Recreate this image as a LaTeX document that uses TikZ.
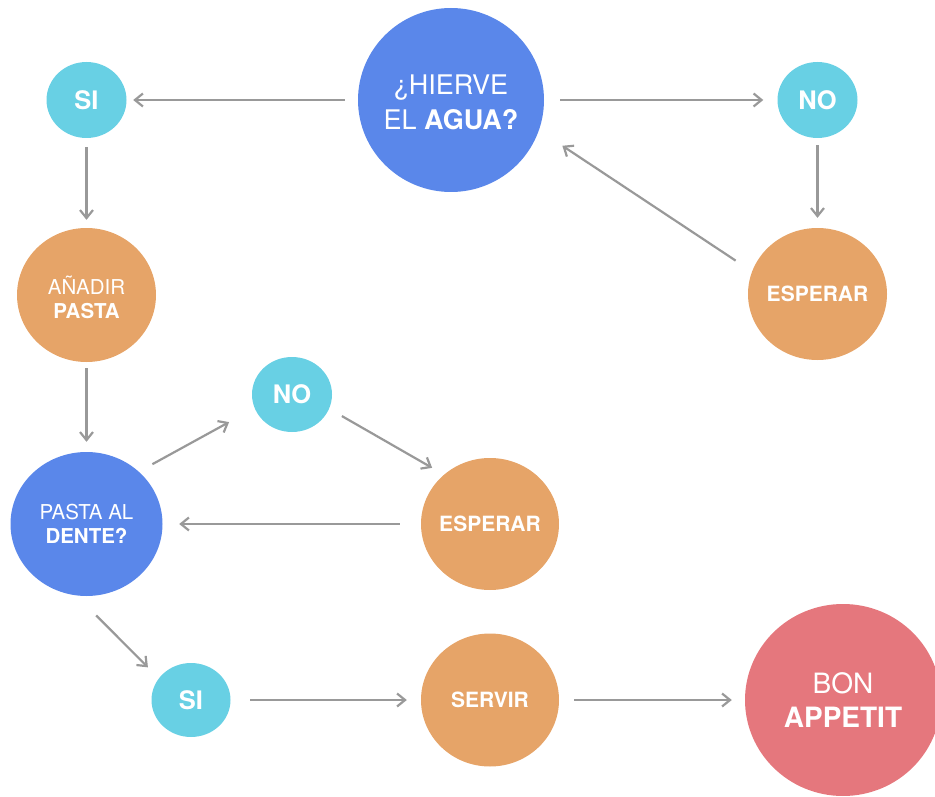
\documentclass[tikz,border=0pt]{standalone}
\usepackage{fontspec}
\setmainfont{TeX Gyre Heros}
\usetikzlibrary{shapes.geometric,arrows.meta}
\definecolor{cblue}{HTML}{5A87EA}
\definecolor{ccyan}{HTML}{68D0E4}
\definecolor{corange}{HTML}{E6A468}
\definecolor{cred}{HTML}{E5777D}
\definecolor{carrow}{HTML}{999999}
\begin{document}
\begin{tikzpicture}[x=1pt,y=-1pt,
  blob/.style 2 args={ellipse, draw=none, inner sep=0pt, minimum width=#1pt, minimum height=#2pt},
  lbl/.style={text=white, align=center, inner sep=0pt},
  big/.style={lbl, font=\fontsize{27}{35}\selectfont},
  yesno/.style={lbl, font=\bfseries\fontsize{25.5}{30}\selectfont},
  small/.style={lbl, font=\fontsize{20.5}{24}\selectfont},
  word/.style={lbl, font=\bfseries\fontsize{21}{24}\selectfont},
  conn/.style={draw=carrow, line width=2.2pt, -{Straight Barb[length=8pt,width=13pt]}},
]
\useasboundingbox (0,0) rectangle (935,797);

% circles
\node[blob={186}{184}, fill=cblue]   (hierve) at (451,100) {};
\node[blob={80}{76},   fill=ccyan]   (si1)    at (86.5,100) {};
\node[blob={80}{76},   fill=ccyan]   (no1)    at (817.5,100) {};
\node[blob={139}{132}, fill=corange] (esp1)   at (817.5,294) {};
\node[blob={139}{134}, fill=corange] (anadir) at (86.5,295) {};
\node[blob={152}{144}, fill=cblue]   (pasta)  at (86.5,524) {};
\node[blob={80}{75},   fill=ccyan]   (no2)    at (292,394.5) {};
\node[blob={138}{132}, fill=corange] (esp2)   at (490,524) {};
\node[blob={79}{74},   fill=ccyan]   (si2)    at (191,700) {};
\node[blob={138}{133}, fill=corange] (servir) at (490,700) {};
\node[blob={196}{192}, fill=cred]    (bon)    at (843,700) {};

% labels
\node[big, yshift=-2pt] (hierve-t) at (hierve) {¿HIERVE\\EL \textbf{AGUA?}};
\node[yesno] (si1-t) at (si1) {SI};
\node[yesno] (no1-t) at (no1) {NO};
\node[word] (esp1-t) at (esp1) {ESPERAR};
\node[small, yshift=-2pt] (anadir-t) at (anadir) {AÑADIR\\\textbf{PASTA}};
\node[small] (pasta-t) at (pasta) {PASTA AL\\\textbf{DENTE?}};
\node[yesno] (no2-t) at (no2) {NO};
\node[word] (esp2-t) at (esp2) {ESPERAR};
\node[yesno] (si2-t) at (si2) {SI};
\node[word] (servir-t) at (servir) {SERVIR};
\node[lbl, font=\fontsize{28}{34}\selectfont] (bon-t) at (bon) {BON\\\textbf{APPETIT}};

% connectors
\draw[conn, shorten <=13pt, shorten >=6.5pt] (hierve) -- (si1);
\draw[conn, shorten <=16pt, shorten >=14pt] (hierve) -- (no1);
\draw[conn, shorten <=7pt, shorten >=10pt] (no1) -- (esp1);
\draw[conn, shorten <=19.6pt, shorten >=28pt] (esp1.161.8) -- (hierve.-19.8);
\draw[conn, shorten <=9pt, shorten >=8pt] (si1) -- (anadir);
\draw[conn, shorten <=6pt, shorten >=10pt] (anadir) -- (pasta);
\draw[conn, shorten <=15.4pt, shorten >=29pt] (pasta.45.4) -- (no2.200.7);
\draw[conn, shorten <=14.6pt, shorten >=13.6pt] (no2.-21.4) -- (esp2.133.2);
\draw[conn, shorten <=21pt, shorten >=16.5pt] (esp2) -- (pasta);
\draw[conn, shorten <=28pt, shorten >=15.4pt] (pasta.262.7) -- (si2.146.9);
\draw[conn, shorten <=19.5pt, shorten >=14pt] (si2) -- (servir);
\draw[conn, shorten <=15pt, shorten >=13pt] (servir) -- (bon);
\end{tikzpicture}
\end{document}
